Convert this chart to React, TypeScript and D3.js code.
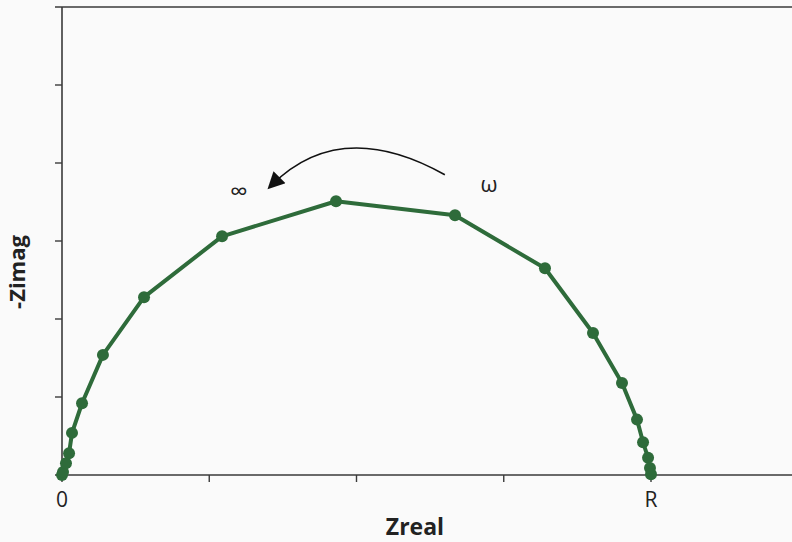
import * as d3 from 'd3';

// Nyquist-style semicircle
const zReal = [0, 0.007, 0.027, 0.048, 0.068, 0.136, 0.278, 0.557, 1.087, 1.861, 2.669, 3.28, 3.606, 3.803, 3.905, 3.946, 3.98, 3.993, 4.0];
const zImag = [0, 0.04, 0.15, 0.28, 0.54, 0.92, 1.54, 2.28, 3.06, 3.51, 3.33, 2.65, 1.82, 1.18, 0.71, 0.42, 0.22, 0.09, 0.01];

const xTicks = [0, 1, 2, 3, 4];
const xTickLabels = ['0', '', '', '', 'R'];
const yTicks = [1, 2, 3, 4, 5];

// arrow annotation (start, control, end) and symbol labels, in data units
const arrowPts: [number, number][] = [[2.6, 3.85], [1.89, 4.6], [1.42, 3.71]];
const symbolLabels = [
  { text: '∞', x: 1.2, y: 3.52, size: 25 },
  { text: 'ω', x: 2.9, y: 3.63, size: 22 },
];

const W = 792;
const H = 542;
const green = '#2e6b3a';
const axisColor = '#3a3a3a';

export default function App() {
  const x = d3.scaleLinear().domain([0, 4]).range([62, 651]);
  const y = d3.scaleLinear().domain([0, 6]).range([475, 7]);
  const x0 = x(0);
  const y0 = y(0);
  const yTop = y(6);
  const tick = 7;

  const points = zReal.map((v, i) => [v, zImag[i]] as [number, number]);
  const line = d3
    .line<[number, number]>()
    .x((d) => x(d[0]))
    .y((d) => y(d[1]));

  const [a, c, b] = arrowPts;
  const arrowPath = `M${x(a[0])},${y(a[1])} Q${x(c[0])},${y(c[1])} ${x(b[0])},${y(b[1])}`;

  return (
    <svg
      width={W}
      height={H}
      style={{ position: 'absolute', left: 0, top: 0, background: '#fafafa' }}
      fontFamily="'Open Sans', sans-serif"
    >
      <defs>
        <marker id="head" viewBox="0 0 10 10" refX="7" refY="5" markerWidth="19" markerHeight="17" markerUnits="userSpaceOnUse" orient="auto">
          <path d="M0,0 L10,5 L0,10 z" fill="#111" />
        </marker>
      </defs>

      {/* frame lines */}
      <line x1={x0 - tick} x2={W} y1={yTop} y2={yTop} stroke={axisColor} strokeWidth={1.6} />
      <line x1={x0 - tick} x2={W} y1={y0} y2={y0} stroke={axisColor} strokeWidth={1.6} />
      <line x1={x0} x2={x0} y1={yTop} y2={y0} stroke={axisColor} strokeWidth={1.6} />

      {yTicks.map((t) => (
        <line key={t} x1={x0 - tick} x2={x0} y1={y(t)} y2={y(t)} stroke={axisColor} strokeWidth={1.4} />
      ))}
      {xTicks.map((t, i) => (
        <g key={t}>
          <line x1={x(t)} x2={x(t)} y1={y0} y2={y0 + tick} stroke={axisColor} strokeWidth={1.4} />
          <text x={x(t)} y={y0 + 32} textAnchor="middle" fontSize={21} fill="#222">
            {xTickLabels[i]}
          </text>
        </g>
      ))}

      {/* series */}
      <path d={line(points) || ''} fill="none" stroke={green} strokeWidth={4} strokeLinejoin="round" />
      {points.map((p, i) => (
        <circle key={i} cx={x(p[0])} cy={y(p[1])} r={6} fill={green} />
      ))}

      {/* annotation */}
      <path d={arrowPath} fill="none" stroke="#111" strokeWidth={1.6} markerEnd="url(#head)" />
      {symbolLabels.map((s) => (
        <text key={s.text} x={x(s.x)} y={y(s.y)} textAnchor="middle" fontSize={s.size} fill="#222">
          {s.text}
        </text>
      ))}

      {/* axis titles */}
      <text x={415} y={535} textAnchor="middle" fontSize={23} fontWeight="bold" fill="#222">
        Zreal
      </text>
      <text transform="translate(25,272) rotate(-90)" textAnchor="middle" fontSize={22} fontWeight="bold" fill="#222">
        -Zimag
      </text>
    </svg>
  );
}
